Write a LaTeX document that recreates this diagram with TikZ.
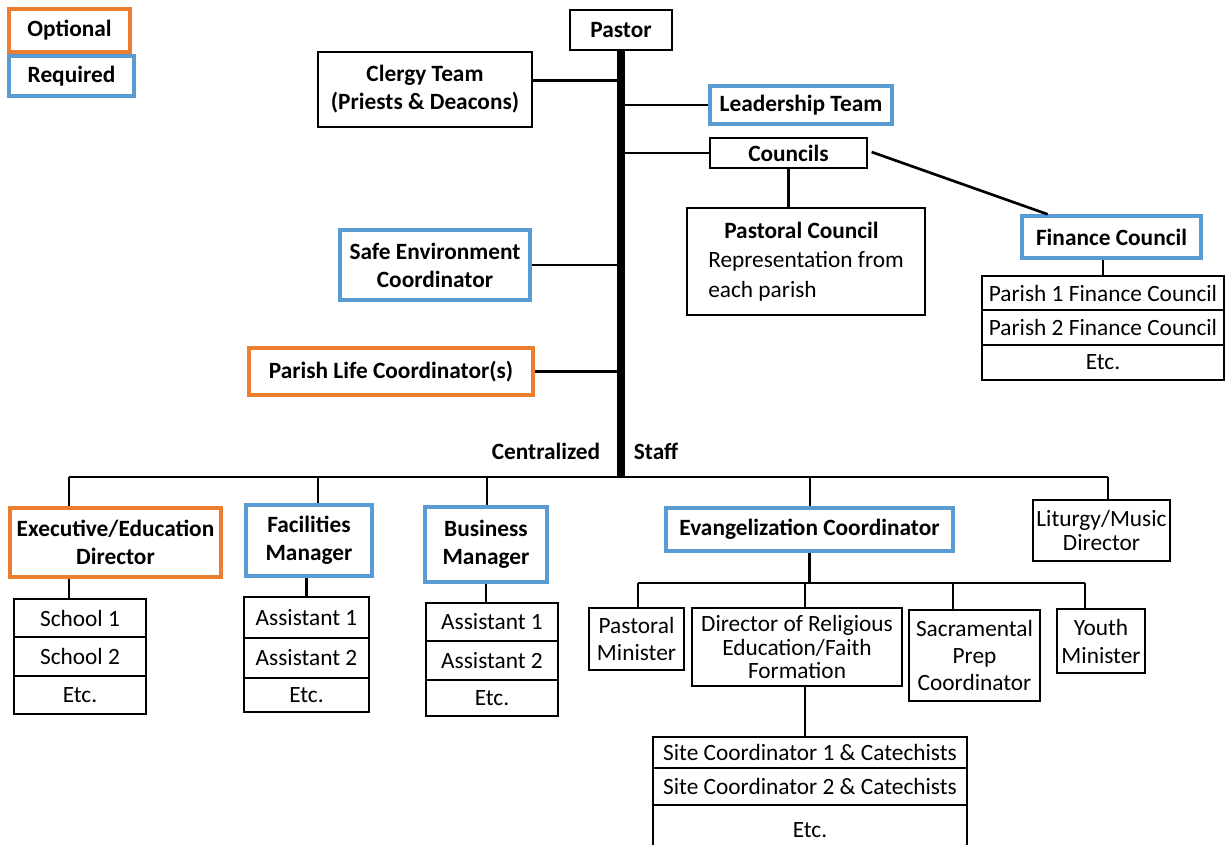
\documentclass[tikz,border=0pt]{standalone}
\usepackage{fontspec}
\setmainfont{Carlito}
\usetikzlibrary{calc}
\definecolor{opt}{HTML}{ED7D31}
\definecolor{req}{HTML}{5B9BD5}
\begin{document}
\begin{tikzpicture}[x=0.75pt,y=-0.75pt,
 every node/.style={font=\fontsize{17.5}{21}\selectfont, inner sep=0pt, align=center},
 cr/.style args={#1,#2,#3,#4}{minimum width={(#3-#1)*0.75pt}, minimum height={(#4-#2)*0.75pt}, at={({(#1+#3)/2},{(#2+#4)/2})}},
 bx/.style={draw=black, line width=0.9pt},
 ob/.style={draw=opt, line width=2.6pt, font=\fontsize{17.5}{21}\selectfont\bfseries},
 rb/.style={draw=req, line width=2.6pt, font=\fontsize{17.5}{21}\selectfont\bfseries},
 bb/.style={bx, font=\fontsize{17.5}{21}\selectfont\bfseries},
 lbl/.style={font=\fontsize{17.5}{21}\selectfont\bfseries},
 ln/.style={line width=2pt},
 mainbar/.style={line width=6pt},
]
\useasboundingbox (0,0) rectangle (1225,844);
% legend
\node[ob, cr={9,9,130,52}] (opt) {Optional};
\node[rb, cr={9,56,134,96}] (req) {Required};
% top
\node[bb, cr={570,10,672,50}] (pastor) {Pastor};
\node[bb, cr={318,52,532,127}] (clergy) {Clergy Team\\(Priests \& Deacons)};
\node[rb, cr={710,86,892,124}] (lead) {Leadership Team};
\node[bb, cr={710,138,867,168}] (councils) {Councils};
\node[bx, cr={687,208,925,315}, align=left, font=\fontsize{17.5}{22}\selectfont] (pc) {\textbf{\hspace*{12pt}Pastoral Council}\\Representation from\\each parish};
\node[rb, cr={1022,216,1201,258}] (fin) {Finance Council};
\node[bx, cr={982,276,1224,310}] (fp1) {Parish 1 Finance Council};
\node[bx, cr={982,310,1224,345}] (fp2) {Parish 2 Finance Council};
\node[bx, cr={982,345,1224,380}] (fp3) {Etc.};
\node[rb, cr={340,230,530,300}] (safe) {Safe Environment\\Coordinator};
\node[ob, cr={249,348,533,395}] (plc) {Parish Life Coordinator(s)};
\node[lbl] (cen) at (546,451) {Centralized};
\node[lbl] (staff) at (656,451) {Staff};
% staff row
\node[ob, cr={10,508,221,577}] (exec) {Executive/Education\\Director};
\node[rb, cr={246,505,372,576}] (fac) {Facilities\\Manager};
\node[rb, cr={425,507,547,582}] (bus) {Business\\Manager};
\node[rb, cr={666,508,953,551}] (evang) {Evangelization Coordinator};
\node[bx, cr={1033,500,1170,561}, font=\fontsize{17.5}{17.5}\selectfont] (lit) {Liturgy/Music\\Director};
% tables
\node[bx, cr={14,599,146,637}] (s1) {School 1};
\node[bx, cr={14,637,146,676}] (s2) {School 2};
\node[bx, cr={14,676,146,714}] (s3) {Etc.};
\node[bx, cr={244,597,369,638}] (a1) {Assistant 1};
\node[bx, cr={244,638,369,678}] (a2) {Assistant 2};
\node[bx, cr={244,678,369,712}] (a3) {Etc.};
\node[bx, cr={426,603,558,641}] (b1) {Assistant 1};
\node[bx, cr={426,641,558,680}] (b2) {Assistant 2};
\node[bx, cr={426,680,558,716}] (b3) {Etc.};
% evangelization children
\node[bx, cr={589,608,684,670}, font=\fontsize{17.5}{20}\selectfont] (pm) {Pastoral\\Minister};
\node[bx, cr={692,608,902,686}, font=\fontsize{17.5}{17.5}\selectfont] (dre) {Director of Religious\\Education/Faith\\Formation};
\node[bx, cr={909,610,1040,701}, font=\fontsize{17.5}{20.5}\selectfont] (sac) {Sacramental\\Prep\\Coordinator};
\node[bx, cr={1057,609,1145,673}] (youth) {Youth\\Minister};
\node[bx, cr={653,737,967,768}] (site1) {Site Coordinator 1 \& Catechists};
\node[bx, cr={653,768,967,805}] (site2) {Site Coordinator 2 \& Catechists};
\node[bx, cr={653,805,967,855}] (site3) {Etc.};
% connectors
\coordinate (barbot) at (620,477);
\draw[mainbar] (pastor.south) -- (pastor.south |- barbot);
\coordinate (cl) at ($(clergy.east)+(0,-9)$);
\draw[ln] (cl) -- (cl -| pastor.south);
\draw[ln] (lead.west) -- (lead.west -| pastor.south);
\draw[ln] (councils.west) -- (councils.west -| pastor.south);
\draw[ln] (councils.south) -- (councils.south |- pc.north);
\draw[ln] ($(councils.east)+(4,-1)$) -- ($(fin.north west)!0.15!(fin.north east)$);
\draw[ln] (fp1.north) -- (fp1.north |- fin.south);
\draw[ln] (safe.east) -- (safe.east -| pastor.south);
\draw[ln] (plc.east) -- (plc.east -| pastor.south);
% staff bar
\coordinate (sL) at (69,477);
\coordinate (d2) at (318,477);
\coordinate (d3) at (487,477);
\coordinate (d4) at (810,477);
\coordinate (sR) at (1108,477);
\draw[ln] (sL) -- (sR);
\draw[ln] (sL) -- (sL |- exec.north);
\draw[ln] (d2) -- (d2 |- fac.north);
\draw[ln] (d3) -- (d3 |- bus.north);
\draw[ln] (d4) -- (d4 |- evang.north);
\draw[ln] (sR) -- (sR |- lit.north);
\draw[ln] (sL |- exec.south) -- (sL |- s1.north);
\draw[ln] (a1.north) -- (a1.north |- fac.south);
\draw[ln] (bus.south) -- (bus.south |- b1.north);
% evangelization bar
\coordinate (e1) at (638,583);
\coordinate (e2) at (805,583);
\coordinate (e3) at (953,583);
\coordinate (e4) at (1085,583);
\draw[ln] (evang.south) -- (evang.south |- e1);
\draw[ln] (e1) -- (e4);
\draw[ln] (e1) -- (e1 |- pm.north);
\draw[ln] (e2) -- (e2 |- dre.north);
\draw[ln] (e3) -- (e3 |- sac.north);
\draw[ln] (e4) -- (e4 |- youth.north);
\draw[ln] (e2 |- dre.south) -- (e2 |- site1.north);
\end{tikzpicture}
\end{document}
